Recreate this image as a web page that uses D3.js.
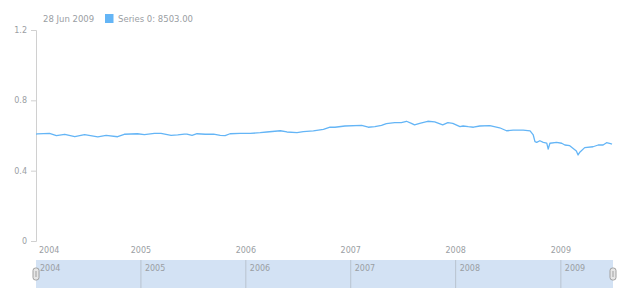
<!DOCTYPE html>
<html>
<head>
<meta charset="utf-8">
<script src="https://cdn.jsdelivr.net/npm/d3@7"></script>
<style>
  body { margin: 0; background: #fff; }
  svg { font-family: "DejaVu Sans", sans-serif; }
</style>
</head>
<body>
<div id="chart"></div>
<script>
// series
const dates = [
  "2004-01-02","2004-01-07","2004-02-18","2004-03-13","2004-04-11","2004-05-16","2004-06-19",
  "2004-08-04","2004-09-02","2004-10-12","2004-11-04","2004-12-20","2005-01-13","2005-02-17",
  "2005-03-12","2005-04-16","2005-05-09","2005-06-01","2005-06-10","2005-06-28","2005-07-15",
  "2005-08-13","2005-09-11","2005-10-04","2005-10-21","2005-11-07","2005-12-12","2006-01-16",
  "2006-02-20","2006-03-15","2006-05-01","2006-05-24","2006-06-28","2006-07-20","2006-08-24",
  "2006-09-28","2006-10-21","2006-11-07","2006-12-12","2007-02-08","2007-03-03","2007-03-26",
  "2007-04-18","2007-05-05","2007-06-03","2007-06-26","2007-07-14","2007-07-31","2007-08-11",
  "2007-08-29","2007-09-26","2007-10-20","2007-11-17","2007-12-05","2007-12-22","2008-01-16",
  "2008-01-27","2008-02-14","2008-03-03","2008-03-25","2008-04-29","2008-06-02","2008-06-26",
  "2008-07-19","2008-08-23","2008-09-16","2008-09-27","2008-10-03","2008-10-09","2008-10-20",
  "2008-11-01","2008-11-13","2008-11-18","2008-11-24","2008-12-17","2009-01-04","2009-01-15",
  "2009-02-01","2009-02-24","2009-03-02","2009-03-08","2009-03-25","2009-04-23","2009-05-11",
  "2009-05-28","2009-06-09","2009-06-26","2009-06-28"
];
const values = [
  0.608,0.609,0.612,0.599,0.607,0.593,0.605,
  0.592,0.601,0.593,0.607,0.610,0.605,0.612,
  0.612,0.601,0.603,0.608,0.608,0.601,0.610,
  0.607,0.608,0.601,0.599,0.610,0.612,0.612,
  0.616,0.620,0.627,0.620,0.616,0.622,0.626,
  0.635,0.647,0.647,0.654,0.658,0.647,0.650,
  0.658,0.667,0.673,0.673,0.681,0.669,0.660,
  0.669,0.681,0.678,0.660,0.673,0.669,0.650,
  0.654,0.650,0.647,0.654,0.656,0.644,0.627,
  0.630,0.631,0.626,0.603,0.565,0.561,0.570,
  0.561,0.557,0.523,0.556,0.561,0.556,0.546,
  0.542,0.512,0.489,0.505,0.531,0.536,0.546,
  0.546,0.559,0.552,0.550
];
const yTicks = [0, 0.4, 0.8, 1.2];
const yearTicks = ["2005", "2006", "2007", "2008", "2009"];
const firstLabel = "2004";
const headerDate = "28 Jun 2009";
const headerText = "Series 0: 8503.00";

const parse = d3.timeParse("%Y-%m-%d");
const data = dates.map((d, i) => ({ date: parse(d), value: values[i] }));

const W = 620, H = 300;
const plotLeft = 36, plotRight = 612, plotTop = 30, plotBottom = 241;
const color = "#64b5f6";
const textColor = "#9a9ea3";

const svg = d3.select("#chart").append("svg")
    .attr("width", W)
    .attr("height", H);

const x = d3.scaleTime()
    .domain([data[0].date, data[data.length - 1].date])
    .range([plotLeft, plotRight]);

const y = d3.scaleLinear()
    .domain([0, 1.2])
    .range([plotBottom, plotTop]);

// y axis
const yAxis = svg.append("g")
    .attr("transform", `translate(${plotLeft},0)`)
    .call(d3.axisLeft(y).tickValues(yTicks).tickSize(5).tickPadding(4).tickFormat(d => d === 0 ? "0" : d3.format(".1f")(d)));
yAxis.select(".domain").attr("stroke", "#d0d0d0");
yAxis.selectAll(".tick line").attr("stroke", "#d0d0d0");
yAxis.selectAll(".tick text")
    .attr("fill", textColor)
    .style("font-size", "8px")
    .style("font-family", "DejaVu Sans");

// x labels
const yearDates = yearTicks.map(t => parse(t + "-01-01"));
svg.append("text")
    .attr("x", plotLeft + 3)
    .attr("y", 253)
    .attr("fill", textColor)
    .style("font-size", "8px")
    .text(firstLabel);
svg.selectAll(".xlab")
    .data(yearDates)
    .enter().append("text")
    .attr("class", "xlab")
    .attr("x", d => x(d))
    .attr("y", 253)
    .attr("text-anchor", "middle")
    .attr("fill", textColor)
    .style("font-size", "8px")
    .text((d, i) => yearTicks[i]);

// line
const line = d3.line()
    .x(d => x(d.date))
    .y(d => y(d.value));

svg.append("path")
    .datum(data)
    .attr("fill", "none")
    .attr("stroke", color)
    .attr("stroke-width", 1.3)
    .attr("stroke-linejoin", "round")
    .attr("d", line);

// header / legend
svg.append("text")
    .attr("x", 43)
    .attr("y", 21.5)
    .attr("fill", textColor)
    .style("font-size", "8.5px")
    .text(headerDate);
svg.append("rect")
    .attr("x", 105)
    .attr("y", 14)
    .attr("width", 8.5)
    .attr("height", 9)
    .attr("fill", color);
svg.append("text")
    .attr("x", 118)
    .attr("y", 21.5)
    .attr("fill", textColor)
    .style("font-size", "8.5px")
    .text(headerText);

// scroller
const sTop = 260, sBottom = 288;
svg.append("rect")
    .attr("x", plotLeft)
    .attr("y", sTop)
    .attr("width", plotRight + 1 - plotLeft)
    .attr("height", sBottom - sTop)
    .attr("fill", "#d3e2f4");

svg.selectAll(".sdiv")
    .data(yearDates)
    .enter().append("line")
    .attr("class", "sdiv")
    .attr("x1", d => x(d))
    .attr("x2", d => x(d))
    .attr("y1", sTop)
    .attr("y2", sBottom)
    .attr("stroke", "#b9c3cf")
    .attr("stroke-width", 1);

svg.append("text")
    .attr("x", plotLeft + 4)
    .attr("y", 270.5)
    .attr("fill", textColor)
    .style("font-size", "8px")
    .text(firstLabel);
svg.selectAll(".slab")
    .data(yearDates)
    .enter().append("text")
    .attr("class", "slab")
    .attr("x", d => x(d) + 4)
    .attr("y", 270.5)
    .attr("fill", textColor)
    .style("font-size", "8px")
    .text((d, i) => yearTicks[i]);

// handles
[plotLeft, plotRight + 1].forEach(hx => {
    svg.append("rect")
        .attr("x", hx - 3)
        .attr("y", 268)
        .attr("width", 6)
        .attr("height", 12)
        .attr("rx", 2.5)
        .attr("fill", "#e6e6e6")
        .attr("stroke", "#a0a0a0")
        .attr("stroke-width", 1);
    svg.append("line")
        .attr("x1", hx)
        .attr("x2", hx)
        .attr("y1", 271)
        .attr("y2", 277)
        .attr("stroke", "#a0a0a0")
        .attr("stroke-width", 1);
});
</script>
</body>
</html>
